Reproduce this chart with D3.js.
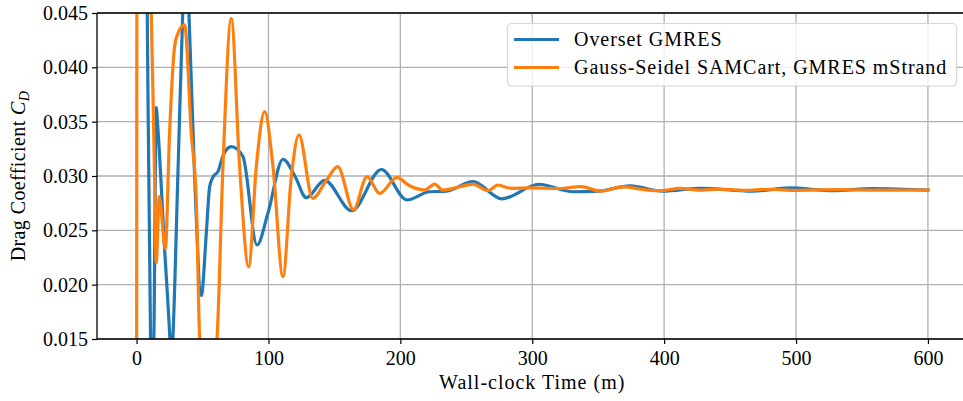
<!DOCTYPE html>
<html><head><meta charset="utf-8">
<script src="https://cdn.jsdelivr.net/npm/d3@7"></script>
<style>
body{margin:0;background:#fff;}
svg{display:block;}
text{font-family:"Liberation Serif","DejaVu Serif",serif;fill:#000;}
</style></head>
<body><svg id="chart" width="963" height="401"></svg>
<script>
// Data (time in minutes, drag coefficient)
const oversetTime = [6,8.1,10.6,11.8,13.1,14.9,16.1,21.2,25.3,26.3,27.5,31.3,35.0,37.3,39.7,44.0,49.1,52.9,55.4,57.9,61.7,66,71.8,80.6,91.3,99.6,111,120,128.7,142.6,163,185.6,205,222,235,255,277,305,331,350,374,399,428,467,495,528,558,600];
const oversetCd   = [0.075,0.045,0.015,0.011,0.015,0.0363,0.0345,0.0234,0.015,0.0125,0.015,0.030,0.045,0.051,0.045,0.030,0.0190,0.0248,0.0290,0.0299,0.0304,0.0320,0.0327,0.0318,0.02365,0.02657,0.03154,0.0300,0.0280,0.0296,0.0268,0.0306,0.0278,0.02855,0.0286,0.02948,0.0279,0.02924,0.02855,0.0286,0.0291,0.0286,0.02887,0.0286,0.0289,0.02865,0.02885,0.0287];

const gsTime = [0,0.6,8,11.1,12.4,13.7,14.9,17.2,21.8,25,28.8,31.3,36.4,41.5,45.3,47.8,54,61,65.5,71.8,78.1,85,90.8,97.1,103.4,111,117.3,123.1,133.5,144,152.5,164.5,174.7,184.3,197.5,206,218.5,226,232,245,255,266.5,274,284,300,320,337,352,369,385,397,412,427,440,460,480,500,530,560,600];
const gsCd   = [0.0,0.09,0.065,0.045,0.0378,0.0294,0.0220,0.0281,0.0233,0.0339,0.0419,0.0431,0.0439,0.0339,0.0278,0.0152,0.008,0.015,0.0309,0.0445,0.0309,0.02165,0.0309,0.03592,0.0309,0.02073,0.0299,0.03378,0.02795,0.0296,0.03086,0.0269,0.02994,0.0284,0.02988,0.02917,0.02871,0.02926,0.0287,0.02901,0.02926,0.02865,0.02917,0.02887,0.0289,0.02885,0.02903,0.0286,0.0290,0.02875,0.02865,0.02887,0.0287,0.0288,0.02868,0.02878,0.02868,0.02875,0.0287,0.0287];

const xTicks = [0,100,200,300,400,500,600];
const yTicks = [0.015,0.020,0.025,0.030,0.035,0.040,0.045];
const seriesNames = ["Overset GMRES","Gauss-Seidel SAMCart, GMRES mStrand"];
const seriesColors = ["#1f77b4","#ff7f0e"];

const L=97, R=967.5, T=13, B=339;
const svg = d3.select("#chart");
const x = d3.scaleLinear().domain([-30,630]).range([L,R]);
const y = d3.scaleLinear().domain([0.015,0.045]).range([B,T]);

// grid
const g = svg.append("g");
g.selectAll(".gx").data(xTicks).enter().append("line")
  .attr("x1",d=>x(d)).attr("x2",d=>x(d)).attr("y1",T).attr("y2",B)
  .attr("stroke","#b0b0b0").attr("stroke-width",1.3);
g.selectAll(".gy").data(yTicks).enter().append("line")
  .attr("x1",L).attr("x2",R).attr("y1",d=>y(d)).attr("y2",d=>y(d))
  .attr("stroke","#b0b0b0").attr("stroke-width",1.3);

svg.append("clipPath").attr("id","clip").append("rect")
  .attr("x",L).attr("y",T).attr("width",R-L).attr("height",B-T);

const line = d3.line().x(d=>x(d[0])).y(d=>y(d[1])).curve(d3.curveMonotoneX);
const series = [d3.zip(oversetTime,oversetCd), d3.zip(gsTime,gsCd)];
svg.append("g").attr("clip-path","url(#clip)").selectAll("path").data(series).enter().append("path")
  .attr("d",line).attr("fill","none").attr("stroke",(d,i)=>seriesColors[i])
  .attr("stroke-width",3.2).attr("stroke-linejoin","round").attr("stroke-linecap","square");

// axes
const xAxis = svg.append("g").attr("transform",`translate(0,${B})`)
  .call(d3.axisBottom(x).tickValues(xTicks).tickFormat(d3.format("d")).tickSize(5).tickPadding(7));
const yAxis = svg.append("g").attr("transform",`translate(${L},0)`)
  .call(d3.axisLeft(y).tickValues(yTicks).tickFormat(d3.format(".3f")).tickSize(5).tickPadding(4));
[xAxis,yAxis].forEach(a=>{
  a.select(".domain").remove();
  a.selectAll(".tick line").attr("stroke","#000").attr("stroke-width",1.2);
  a.selectAll(".tick text").attr("font-size",20).attr("font-family","Liberation Serif").attr("fill","#000");
});
// spines
svg.append("line").attr("x1",L).attr("x2",L).attr("y1",T).attr("y2",B).attr("stroke","#000").attr("stroke-width",1.3);
svg.append("line").attr("x1",L).attr("x2",R).attr("y1",B).attr("y2",B).attr("stroke","#000").attr("stroke-width",1.3);
svg.append("line").attr("x1",L).attr("x2",R).attr("y1",T).attr("y2",T).attr("stroke","#000").attr("stroke-width",1.3);
svg.append("line").attr("x1",R).attr("x2",R).attr("y1",T).attr("y2",B).attr("stroke","#000").attr("stroke-width",1.3);

// labels
svg.append("text").attr("x",(L+R)/2).attr("y",389).attr("text-anchor","middle").attr("font-size",20)
  .attr("letter-spacing",1).text("Wall-clock Time (m)");
const yl = svg.append("text").attr("transform",`translate(25,${(T+B)/2}) rotate(-90)`)
  .attr("text-anchor","middle").attr("font-size",20).attr("letter-spacing",0.4);
yl.append("tspan").text("Drag Coefficient ");
yl.append("tspan").attr("font-style","italic").text("C");
yl.append("tspan").attr("font-style","italic").attr("font-size",14).attr("dy",4).text("D");

// legend
const lg = svg.append("g");
lg.append("rect").attr("x",507.5).attr("y",23.5).attr("width",449).attr("height",62.5).attr("rx",4)
  .attr("fill","#fff").attr("fill-opacity",0.8).attr("stroke","#d6d6d6").attr("stroke-width",1.2);
seriesNames.forEach((n,i)=>{
  const yy = 39.5 + i*28;
  lg.append("line").attr("x1",514).attr("x2",559).attr("y1",yy).attr("y2",yy)
    .attr("stroke",seriesColors[i]).attr("stroke-width",3.2);
  lg.append("text").attr("x",574).attr("y",yy+6.5).attr("font-size",20).attr("letter-spacing",0.95).text(n);
});
</script></body></html>
